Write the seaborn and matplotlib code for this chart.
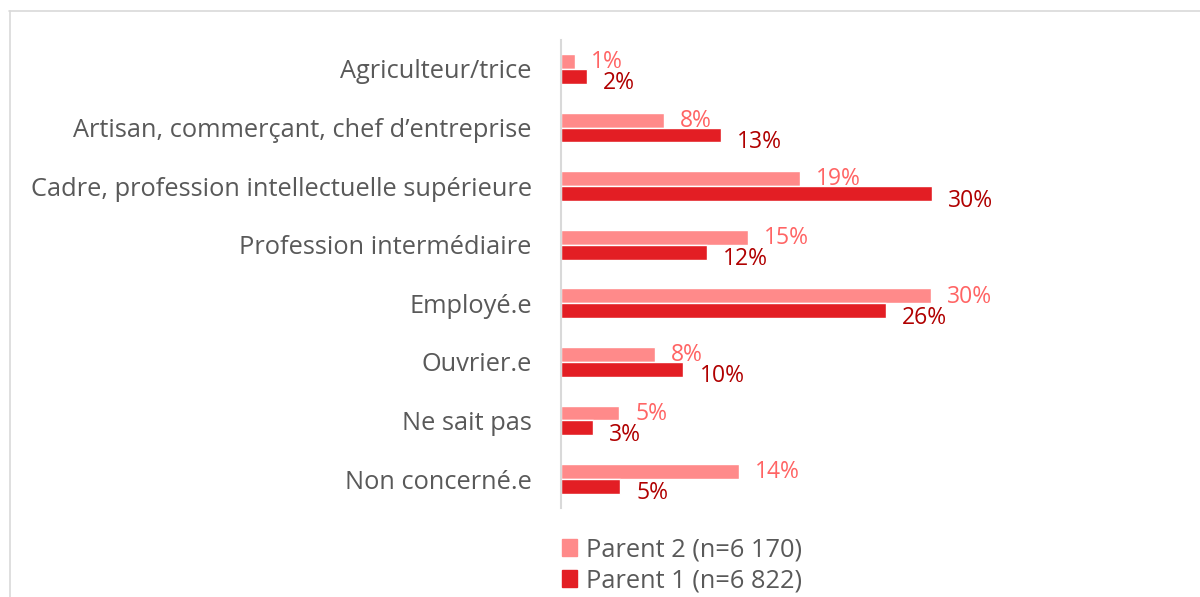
import pandas as pd
import seaborn as sns
import matplotlib.pyplot as plt
from matplotlib.patches import Patch
from matplotlib.lines import Line2D

categories = ["Agriculteur/trice", "Artisan, commerçant, chef d\u2019entreprise",
              "Cadre, profession intellectuelle supérieure", "Profession intermédiaire",
              "Employé.e", "Ouvrier.e", "Ne sait pas", "Non concerné.e"]
series = ["Parent 2 (n=6 170)", "Parent 1 (n=6 822)"]
parent2 = [1.1, 8.3, 19.3, 15.1, 29.9, 7.6, 4.7, 14.4]
parent1 = [2.1, 12.9, 30.0, 11.8, 26.3, 9.9, 2.6, 4.8]

bar_colors = ["#FF8A8A", "#E31E24"]
label_colors = ["#FF6464", "#B00000"]

df = pd.DataFrame({
    "cat": categories * 2,
    "serie": [series[0]] * len(categories) + [series[1]] * len(categories),
    "val": parent2 + parent1,
})

sns.set_theme(style="white")
plt.rcParams["font.family"] = ["Open Sans", "DejaVu Sans"]

fig = plt.figure(figsize=(12, 5.97), dpi=100)
ax = fig.add_axes([561 / 1200, 1 - 508.3 / 597, 433 / 1200, 468.6 / 597])

sns.barplot(data=df, y="cat", x="val", hue="serie", hue_order=series,
            palette=bar_colors, orient="h", width=0.51, gap=0,
            saturation=1, legend=False, ax=ax)

ax.set_xlim(0, 35)
ax.set_ylim(7.5, -0.5)
ax.set_xlabel("")
ax.set_ylabel("")
ax.set_xticks([])
for s in ["top", "right", "bottom"]:
    ax.spines[s].set_visible(False)
ax.spines["left"].set_color("#D9D9D9")
ax.spines["left"].set_linewidth(1.5)
ax.tick_params(axis="y", length=0, pad=21, labelsize=18.3, labelcolor="#595959")

# value labels
for k, cont in enumerate(ax.containers):
    vals = parent2 if k == 0 else parent1
    for bar, v in zip(cont, vals):
        y = bar.get_y() + bar.get_height() / 2
        ax.annotate(f"{round(v)}%", (bar.get_width(), y),
                    xytext=(11.5, -0.5 if k == 0 else -5), textcoords="offset points",
                    va="center", ha="left", fontsize=16.5, color=label_colors[k])

handles = [Patch(color=c) for c in bar_colors]
fig.legend(handles, series, loc="upper left", bbox_to_anchor=(0.468, 0.1),
           frameon=False, fontsize=18.3, labelcolor="#595959",
           handlelength=0.62, handleheight=0.62, handletextpad=0.35,
           labelspacing=0.25, borderpad=0, borderaxespad=0)

# outer frame
fig.add_artist(Line2D([9 / 1200, 1], [1 - 11 / 597, 1 - 11 / 597],
                      transform=fig.transFigure, color="#D9D9D9", lw=1.2))
fig.add_artist(Line2D([9.5 / 1200, 9.5 / 1200], [0, 1 - 11 / 597],
                      transform=fig.transFigure, color="#D9D9D9", lw=1.2))

fig.savefig("out.png", dpi=100)
